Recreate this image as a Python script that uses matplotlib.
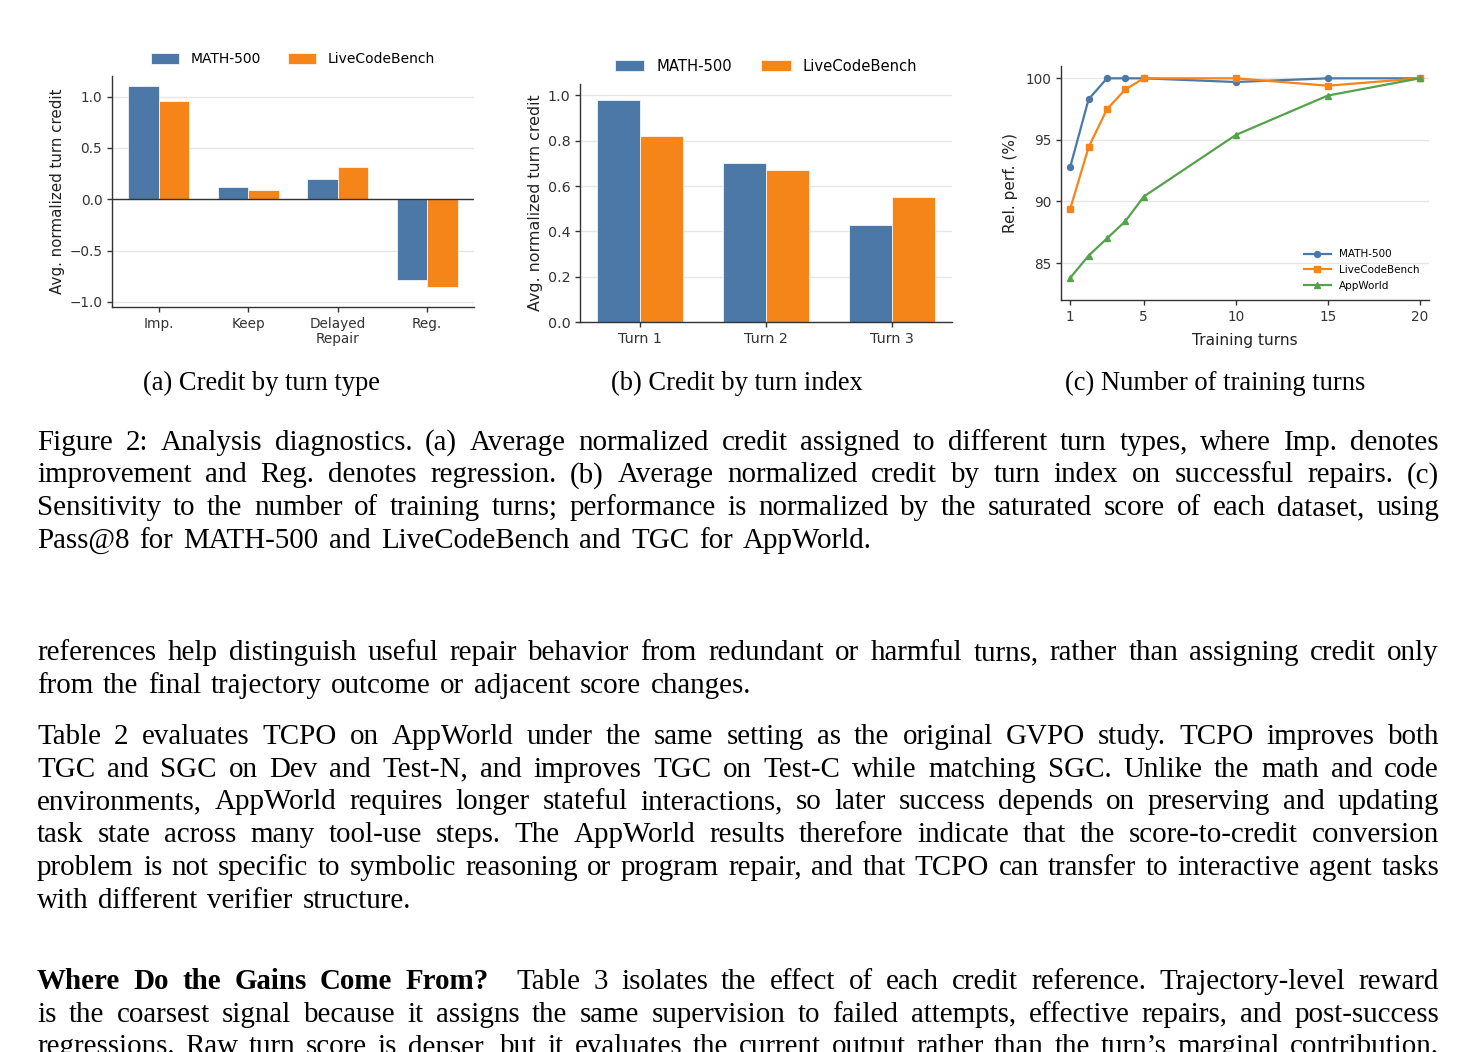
import matplotlib
matplotlib.use('Agg')
import matplotlib.pyplot as plt
import numpy as np

W, H = 1477, 1052

# (a) credit by turn type
turn_types = ['Imp.', 'Keep', 'Delayed\nRepair', 'Reg.']
credit_math_a = [1.10, 0.117, 0.20, -0.785]
credit_lcb_a = [0.96, 0.085, 0.31, -0.855]

# (b) credit by turn index
turn_index = ['Turn 1', 'Turn 2', 'Turn 3']
credit_math_b = [0.978, 0.70, 0.43]
credit_lcb_b = [0.82, 0.67, 0.55]

# (c) number of training turns
train_turns = [1, 2, 3, 4, 5, 10, 15, 20]
rel_math = [92.8, 98.3, 100.0, 100.0, 100.0, 99.7, 100.0, 100.0]
rel_lcb = [89.4, 94.4, 97.5, 99.1, 100.0, 100.0, 99.4, 100.0]
rel_app = [83.8, 85.6, 87.0, 88.4, 90.4, 95.4, 98.6, 100.0]

BLUE = '#4c78a8'
ORANGE = '#f58518'
GREEN = '#54a24b'
DARK = '#333333'

plt.rcParams['font.family'] = 'DejaVu Sans'

fig = plt.figure(figsize=(W / 100, H / 100), dpi=100)


def px_axes(left, top, right, bottom):
    return fig.add_axes([left / W, 1 - bottom / H, (right - left) / W, (bottom - top) / H])


def style(ax, fs=9.8):
    for s in ['top', 'right']:
        ax.spines[s].set_visible(False)
    for s in ['left', 'bottom']:
        ax.spines[s].set_color(DARK)
        ax.spines[s].set_linewidth(1.0)
    ax.tick_params(colors=DARK, labelsize=fs, length=3.5, width=1.0)
    ax.grid(axis='y', color='#e6e6e6', lw=1.0)
    ax.set_axisbelow(True)


def bar_legend(ax, fs=10):
    ax.legend(loc='lower center', bbox_to_anchor=(0.5, 1.0), ncol=2, frameon=False,
              fontsize=fs, handlelength=2.0, handleheight=0.75, columnspacing=2.0,
              handletextpad=0.8, borderaxespad=0.3)


# ---- (a)
ax1 = px_axes(112, 76, 474, 307)
x = np.arange(len(turn_types))
bw = 0.34
ax1.bar(x - bw / 2, credit_math_a, bw, color=BLUE, edgecolor='white', lw=0.5, label='MATH-500')
ax1.bar(x + bw / 2, credit_lcb_a, bw, color=ORANGE, edgecolor='white', lw=0.5, label='LiveCodeBench')
ax1.axhline(0, color=DARK, lw=1.0)
ax1.set_xticks(x)
ax1.set_xticklabels(turn_types, linespacing=1.1)
ax1.set_yticks([-1.0, -0.5, 0.0, 0.5, 1.0])
ax1.set_ylim(-1.05, 1.2)
ax1.set_ylabel('Avg. normalized turn credit', fontsize=10.9, color='#222222', labelpad=3)
style(ax1)
bar_legend(ax1)

# ---- (b)
ax2 = px_axes(580, 84, 952, 322)
x = np.arange(len(turn_index))
ax2.bar(x - bw / 2, credit_math_b, bw, color=BLUE, edgecolor='white', lw=0.5, label='MATH-500')
ax2.bar(x + bw / 2, credit_lcb_b, bw, color=ORANGE, edgecolor='white', lw=0.5, label='LiveCodeBench')
ax2.set_xticks(x)
ax2.set_xticklabels(turn_index)
ax2.set_yticks([0.0, 0.2, 0.4, 0.6, 0.8, 1.0])
ax2.set_ylim(0, 1.05)
ax2.set_ylabel('Avg. normalized turn credit', fontsize=11.4, color='#222222', labelpad=3)
style(ax2, fs=10.3)
bar_legend(ax2, fs=10.6)

# ---- (c)
ax3 = px_axes(1061, 66, 1429, 300)
ax3.plot(train_turns, rel_math, '-o', color=BLUE, lw=1.6, ms=4.3, label='MATH-500')
ax3.plot(train_turns, rel_lcb, '-s', color=ORANGE, lw=1.6, ms=4.3, label='LiveCodeBench')
ax3.plot(train_turns, rel_app, '-^', color=GREEN, lw=1.6, ms=4.5, label='AppWorld')
ax3.set_xticks([1, 5, 10, 15, 20])
ax3.set_yticks([85, 90, 95, 100])
ax3.set_xlim(0.5, 20.5)
ax3.set_ylim(82, 101)
ax3.set_xlabel('Training turns', fontsize=11.1, color='#222222', labelpad=6.5)
ax3.set_ylabel('Rel. perf. (%)', fontsize=11.1, color='#222222', labelpad=5)
style(ax3)
ax3.legend(loc='lower right', frameon=False, fontsize=7.5, handlelength=2.6,
           borderaxespad=0.5, labelspacing=0.55)

# ---- text
SERIF = 'Liberation Serif'
FS = 20.85
renderer = fig.canvas.get_renderer()
LEFT, RIGHT = 37, 1439


def fy(y):
    return 1 - y / H


def word_width(w, bold=False):
    t = fig.text(0, 0, w, fontsize=FS, family=SERIF, weight='bold' if bold else 'normal')
    wd = t.get_window_extent(renderer).width
    t.remove()
    return wd


def line(words, y, right=RIGHT):
    # words: list of (text, bold, extra_gap_after); spread between LEFT and right
    widths = [word_width(w, b) for w, b, _ in words]
    extra = sum(e for _, _, e in words[:-1])
    gap = (right - LEFT - sum(widths) - extra) / (len(words) - 1)
    xpos = LEFT
    for (w, b, e), wd in zip(words, widths):
        fig.text(xpos / W, fy(y), w, fontsize=FS, family=SERIF, va='baseline',
                 weight='bold' if b else 'normal', color='black')
        xpos += wd + gap + e


def plain(s):
    return [(w, False, 0) for w in s.split()]


subcaps = ['(a) Credit by turn type', '(b) Credit by turn index', '(c) Number of training turns']
for cx, s in zip([261, 737, 1215], subcaps):
    fig.text(cx / W, fy(390), s, fontsize=19.1, family=SERIF, ha='center', va='baseline')

caption = [
    'Figure 2: Analysis diagnostics. (a) Average normalized credit assigned to different turn types, where Imp. denotes',
    'improvement and Reg. denotes regression. (b) Average normalized credit by turn index on successful repairs. (c)',
    'Sensitivity to the number of training turns; performance is normalized by the saturated score of each dataset, using',
]
for i, s in enumerate(caption):
    line(plain(s), 449.5 + i * 32.7)
line(plain('Pass@8 for MATH-500 and LiveCodeBench and TGC for AppWorld.'), 449.5 + 3 * 32.7, right=872)

line(plain('references help distinguish useful repair behavior from redundant or harmful turns, rather than assigning credit only'), 660)
line(plain('from the final trajectory outcome or adjacent score changes.'), 693, right=751)

para3 = [
    'Table 2 evaluates TCPO on AppWorld under the same setting as the original GVPO study. TCPO improves both',
    'TGC and SGC on Dev and Test-N, and improves TGC on Test-C while matching SGC. Unlike the math and code',
    'environments, AppWorld requires longer stateful interactions, so later success depends on preserving and updating',
    'task state across many tool-use steps. The AppWorld results therefore indicate that the score-to-credit conversion',
    'problem is not specific to symbolic reasoning or program repair, and that TCPO can transfer to interactive agent tasks',
]
for i, s in enumerate(para3):
    line(plain(s), 744 + i * 32.7)
line(plain('with different verifier structure.'), 744 + 5 * 32.7, right=411)

head = [(w, True, 0) for w in 'Where Do the Gains Come From?'.split()]
head[-1] = ('From?', True, 14)
line(head + plain('Table 3 isolates the effect of each credit reference. Trajectory-level reward'), 989)
line(plain('is the coarsest signal because it assigns the same supervision to failed attempts, effective repairs, and post-success'), 1022)
line(plain("regressions. Raw turn score is denser, but it evaluates the current output rather than the turn\u2019s marginal contribution."), 1054.5)

fig.savefig('out.png', dpi=100)
